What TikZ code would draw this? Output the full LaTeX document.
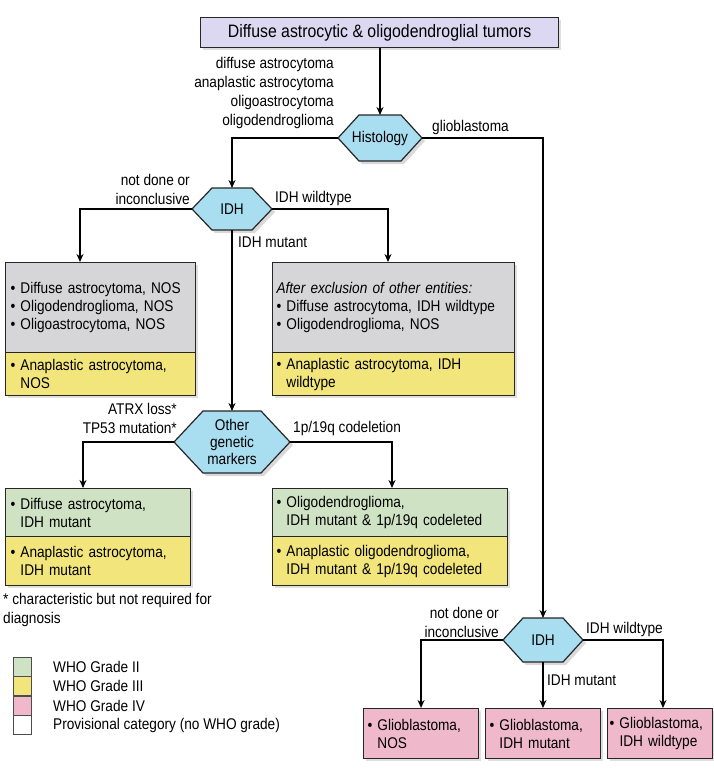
\documentclass[tikz,border=0pt]{standalone}
\usepackage{fontspec}
\setmainfont{Liberation Sans}[FakeStretch=0.88]
\usetikzlibrary{arrows.meta,shadows}
\definecolor{lav}{HTML}{DCD8F2}
\definecolor{hexblue}{HTML}{A9DDF0}
\definecolor{grey2}{HTML}{D6D6D8}
\definecolor{yel}{HTML}{F2E57C}
\definecolor{grn}{HTML}{CFE3C4}
\definecolor{pnk}{HTML}{EFB8CB}
\tikzset{
  box/.style={draw=black!85,line width=1.1pt,anchor=north west,inner sep=0pt,align=left,drop shadow={opacity=0.25}},
  lbl/.style={font=\fontsize{15.5}{19}\selectfont,align=right,inner sep=1pt},
  arr/.style={-{Stealth[length=8pt,width=7pt]},line width=1.2pt},
  ln/.style={line width=1.2pt}
}
\newcommand{\hexnode}[5]{% name, x, y, half width, half height
  \fill[black,opacity=0.15] (#2-#4+3,#3+3) -- (#2-#4/2+3,#3-#5+3) -- (#2+#4/2+3,#3-#5+3) -- (#2+#4+3,#3+3) -- (#2+#4/2+3,#3+#5+3) -- (#2-#4/2+3,#3+#5+3) -- cycle;
  \draw[fill=hexblue,line width=1.2pt,draw=black!85] (#2-#4,#3) -- (#2-#4/2,#3-#5) -- (#2+#4/2,#3-#5) -- (#2+#4,#3) -- (#2+#4/2,#3+#5) -- (#2-#4/2,#3+#5) -- cycle;
  \coordinate (#1-w) at (#2-#4,#3);
  \coordinate (#1-e) at (#2+#4,#3);
  \coordinate (#1-n) at (#2,#3-#5);
  \coordinate (#1-s) at (#2,#3+#5);
}
\newcommand{\bl}{\textbullet~}
\newcommand{\ind}{\phantom{\textbullet~}}
\begin{document}
\begin{tikzpicture}[x=1pt,y=-1pt,font=\fontsize{15.5}{18}\selectfont]
\useasboundingbox[fill=white] (0,0) rectangle (714,768);
% top
\node[box,fill=lav,minimum width=358,minimum height=30,align=center,font=\fontsize{18}{20}\selectfont] (top) at (200,17) {Diffuse astrocytic \& oligodendroglial tumors};
\hexnode{hist}{380}{138}{42}{23}
\node (histtxt) at (380,138) {Histology};
\hexnode{idh}{232}{209}{40}{21}
\node (idhtxt) at (232,209) {IDH};
\hexnode{oth}{232}{442}{58}{31}
\node[align=center,font=\fontsize{15.5}{17}\selectfont] (othtxt) at (232,442) {Other\\genetic\\markers};
\hexnode{idhb}{543}{640}{40}{22}
\node (idhbtxt) at (543,640) {IDH};
% boxes, first row
\node[box,fill=grey2,minimum width=190,minimum height=90,text width=180] (nosA) at (5,262) {\bl Diffuse astrocytoma, NOS\\\bl Oligodendroglioma, NOS\\\bl Oligoastrocytoma, NOS};
\node[box,fill=yel,minimum width=190,minimum height=43,text width=180] (nosB) at (5,352) {\bl Anaplastic astrocytoma,\\\ind NOS};
\node[box,fill=grey2,minimum width=242,minimum height=90,text width=234] (wtA) at (272,262) {\textit{After exclusion of other entities:}\\\bl Diffuse astrocytoma, IDH wildtype\\\bl Oligodendroglioma, NOS};
\node[box,fill=yel,minimum width=242,minimum height=43,text width=234] (wtB) at (272,352) {\bl Anaplastic astrocytoma, IDH\\\ind wildtype};
% boxes, second row
\node[box,fill=grn,minimum width=185,minimum height=48,text width=175] (astA) at (5,488) {\bl Diffuse astrocytoma,\\\ind IDH mutant};
\node[box,fill=yel,minimum width=185,minimum height=49,text width=175] (astB) at (5,536) {\bl Anaplastic astrocytoma,\\\ind IDH mutant};
\node[box,fill=grn,minimum width=235,minimum height=48,text width=227] (oliA) at (272,488) {\bl Oligodendroglioma,\\\ind IDH mutant \& 1p/19q codeleted};
\node[box,fill=yel,minimum width=235,minimum height=49,text width=227] (oliB) at (272,536) {\bl Anaplastic oligodendroglioma,\\\ind IDH mutant \& 1p/19q codeleted};
% glioblastoma boxes
\node[box,fill=pnk,minimum width=115,minimum height=50,text width=107] (gbA) at (363,708) {\bl Glioblastoma,\\\ind NOS};
\node[box,fill=pnk,minimum width=115,minimum height=50,text width=107] (gbB) at (485,708) {\bl Glioblastoma,\\\ind IDH mutant};
\node[box,fill=pnk,minimum width=105,minimum height=50,text width=101] (gbC) at (607,708) {\bl Glioblastoma,\\\ind IDH wildtype};
% connectors
\draw[arr] (top.south -| hist-n) -- (hist-n);
\draw[arr] (hist-w) -| (idh-n);
\draw[arr] (hist-e) -| (idhb-n);
\draw[arr] (idh-w) -| (nosA.north -| 80,0);
\draw[arr] (idh-e) -| (wtA.north -| 388,0);
\draw[arr] (idh-s) -- (oth-n);
\draw[arr] (oth-w) -| (astA.north -| 83,0);
\draw[arr] (oth-e) -| (oliA.north -| 392,0);
\draw[arr] (idhb-w) -| (gbA.north);
\draw[arr] (idhb-s) -- (gbB.north -| idhb-s);
\draw[arr] (idhb-e) -| (gbC.north -| 663,0);
% labels
\node[lbl,anchor=east] (lhist) at (335,93) {diffuse astrocytoma\\anaplastic astrocytoma\\oligoastrocytoma\\oligodendroglioma};
\node[lbl,anchor=west] (lgbm) at (431,127) {glioblastoma};
\node[lbl,anchor=east] (lnd) at (191,189) {not done or\\inconclusive};
\node[lbl,anchor=west] (lwt) at (274,198) {IDH wildtype};
\node[lbl,anchor=west] (lmut) at (237,242) {IDH mutant};
\node[lbl,anchor=east] (latrx) at (178,418) {ATRX loss*\\TP53 mutation*};
\node[lbl,anchor=west] (lcod) at (292,428) {1p/19q codeletion};
\node[lbl,anchor=east] (lnd2) at (500,622) {not done or\\inconclusive};
\node[lbl,anchor=west] (lwt2) at (585,629) {IDH wildtype};
\node[lbl,anchor=west] (lmut2) at (546,680) {IDH mutant};
% legend
\node[lbl,anchor=north west,align=left] (foot) at (2,592) {* characteristic but not required for\\diagnosis};
\foreach \c/\t [count=\i] in {grn/WHO Grade II,yel/WHO Grade III,pnk/WHO Grade IV,white/Provisional category (no WHO grade)}{
  \node[draw=black!70,line width=1pt,fill=\c,minimum width=18,minimum height=19,inner sep=0pt] (sq\i) at (22,647+\i*19.5) {};
  \node[lbl,anchor=west] (leg\i) at (52,647+\i*19.5) {\t};
}
\end{tikzpicture}
\end{document}
